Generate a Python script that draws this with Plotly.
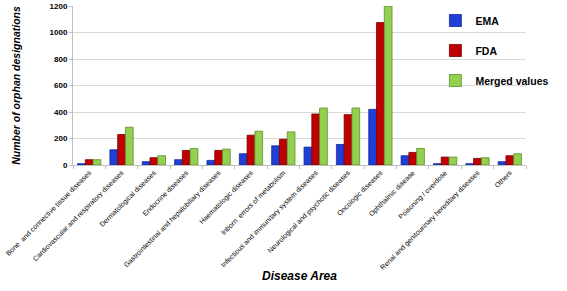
import plotly.graph_objects as go

categories = [
    "Bone  and connective tissue diseases",
    "Cardiovascular and respiratory diseases",
    "Dermatological diseases",
    "Endocrine diseases",
    "Gastrointestinal and hepatobiliary diseases",
    "Haematologic diseases",
    "Inborn  errors of metabolism",
    "Infectious and immunitary system diseases",
    "Neurological and psychotic diseases",
    "Oncologic diseases",
    "Ophthalmic disease",
    "Poisoning / overdose",
    "Renal and genitourinary hereditary diseases",
    "Others",
]
ema = [10, 115, 25, 40, 35, 85, 145, 135, 155, 420, 70, 10, 10, 25]
fda = [40, 230, 55, 110, 110, 225, 195, 385, 380, 1075, 95, 60, 50, 70]
merged = [40, 285, 70, 125, 120, 255, 250, 430, 430, 1200, 125, 60, 55, 85]
y_ticks = [0, 200, 400, 600, 800, 1000, 1200]

fig = go.Figure()
series = [
    ("EMA", ema, "#1F3FD6", "#142a99"),
    ("FDA", fda, "#C00000", "#7a0000"),
    ("Merged values", merged, "#92D050", "#5f8f2a"),
]
for name, vals, col, edge in series:
    fig.add_trace(go.Bar(
        name=name, x=categories, y=vals, legendgroup=name,
        marker=dict(color=col, line=dict(color=edge, width=0.8)),
    ))

fig.update_layout(
    width=567, height=291,
    margin=dict(l=73, r=41, t=6, b=126),
    paper_bgcolor="white", plot_bgcolor="white",
    barmode="group", bargap=0.28, bargroupgap=0,
    font=dict(family="Liberation Sans", color="black"),
    legend=dict(
        x=0.8, y=1.0, xanchor="left", yanchor="top",
        bgcolor="rgba(0,0,0,0)", tracegroupgap=11,
        font=dict(size=10.5, family="Liberation Sans", weight="bold"),
        itemwidth=30,
    ),
    showlegend=True,
)
fig.update_xaxes(
    tickangle=-45, tickfont=dict(size=7, color="black"), showgrid=False,
    showline=True, linecolor="#bfbfbf", ticks="outside", tickson="boundaries",
    ticklen=3, tickcolor="#bfbfbf",
    title=dict(text="<b><i>Disease Area</i></b>", font=dict(size=12), standoff=0),
    automargin=False,
)
fig.update_yaxes(
    range=[0, 1200], tickvals=y_ticks,
    tickfont=dict(size=8, weight="bold"),
    showgrid=True, gridcolor="#d9d9d9", zeroline=False,
    showline=True, linecolor="#bfbfbf", ticks="outside", ticklen=3, tickcolor="#bfbfbf",
    title=dict(text="<b><i>Number of orphan designations</i></b>", font=dict(size=10.5), standoff=26),
    automargin=False,
)
fig.write_html("out.html", config={"displayModeBar": False},
               post_script="document.body.style.margin='0';")
